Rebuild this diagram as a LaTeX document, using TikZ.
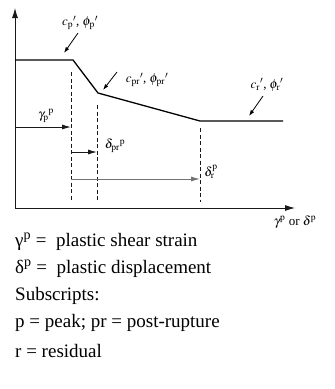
\documentclass[tikz,border=0pt]{standalone}
\usepackage{mathptmx}
\usepackage{fontspec}
\setmainfont{Liberation Serif}
\usepackage{tikz}
\usetikzlibrary{arrows.meta, positioning, calc}
\definecolor{mydark}{RGB}{25,25,25}
\definecolor{mygray}{RGB}{115,115,115}
\tikzset{
  axis/.style={-{Latex[length=10pt,width=6pt]}, line width=0.9pt, color=mydark},
  curve/.style={line width=1.3pt, color=black},
  guide/.style={dash pattern=on 4pt off 2.5pt, line width=0.7pt, color=mydark},
  dimarrow/.style={-{Latex[length=9pt,width=5pt]}, line width=1pt, color=mydark},
  note/.style={-{Latex[length=6pt,width=4pt]}, line width=0.8pt, color=black},
  lbl/.style={font=\fontsize{13}{15}\selectfont, inner sep=1pt},
  legend/.style={font=\fontsize{19}{22}\selectfont, anchor=west, inner sep=0pt}
}

\begin{document}
\begin{tikzpicture}[x=1pt, y=-1pt]
  \useasboundingbox (0,0) rectangle (335,389);

  % Axes
  \coordinate (orig) at (15,208);
  \coordinate (ytip) at (15,8);
  \coordinate (xtip) at (295,208);
  \draw[axis] (orig) -- (ytip);
  \draw[axis] (orig) -- (xtip);
  \node[lbl] (xlbl) at (295,222) {$\gamma^{\mathrm{p}}$ or $\delta^{\mathrm{p}}$};

  % Strength curve
  \coordinate (c0) at (15,60);
  \coordinate (cp) at (73,60);
  \coordinate (cpr) at (98,93);
  \coordinate (cr) at (200,121);
  \coordinate (cend) at (283,121);
  \draw[curve] (c0) -- (cp) -- (cpr) -- (cr) -- (cend);

  % Guide lines
  \coordinate (g1top) at (71,72);   \coordinate (g1bot) at (71,200);
  \coordinate (g2top) at (97,105);  \coordinate (g2bot) at (97,200);
  \coordinate (g3top) at (200,128); \coordinate (g3bot) at (200,202);
  \draw[guide] (g1top) -- (g1bot);
  \draw[guide] (g2top) -- (g2bot);
  \draw[guide] (g3top) -- (g3bot);

  % Plastic strain arrows
  \coordinate (ga) at (15,127);  \coordinate (gb) at (71,127);
  \coordinate (da) at (71,152);  \coordinate (db) at (97,152);
  \coordinate (ra) at (71,179);  \coordinate (rb) at (200,179);
  \draw[dimarrow] (ga) -- (gb);
  \draw[dimarrow] (da) -- (db);
  \draw[dimarrow, color=mygray] (ra) -- (rb);
  \node[lbl] (gamlbl) at (46,116) {$\gamma_{\mathrm{p}}{}^{\mathrm{p}}$};
  \node[lbl] (dprlbl) at (115,146) {$\delta_{\mathrm{pr}}{}^{\mathrm{p}}$};
  \node[lbl] (drlbl) at (211,172) {$\delta_{\mathrm{r}}^{\mathrm{p}}$};

  % Strength parameters
  \node[lbl] (plbl) at (80,23) {$c_{\mathrm{p}}{}'$, $\phi_{\mathrm{p}}{}'$};
  \node[lbl] (prlbl) at (147,80) {$c_{\mathrm{pr}}{}'$, $\phi_{\mathrm{pr}}{}'$};
  \node[lbl] (rlbl) at (267,85) {$c_{\mathrm{r}}{}'$, $\phi_{\mathrm{r}}{}'$};
  \coordinate (pa) at (78,33);   \coordinate (pb) at (64,53);
  \coordinate (pra) at (117,72); \coordinate (prb) at (103,90);
  \coordinate (rra) at (263,96); \coordinate (rrb) at (249,116);
  \draw[note] (pa) -- (pb);
  \draw[note] (pra) -- (prb);
  \draw[note] (rra) -- (rrb);

  % Legend
  \node[legend] (leg1) at (15,242) {γ\textsuperscript{p} = \ plastic shear strain};
  \node[legend] (leg2) at (15,269) {δ\textsuperscript{p} = \ plastic displacement};
  \node[legend] (leg3) at (15,296) {Subscripts:};
  \node[legend] (leg4) at (15,323) {p = peak; pr = post-rupture};
  \node[legend] (leg5) at (15,351) {r = residual};
\end{tikzpicture}
\end{document}
